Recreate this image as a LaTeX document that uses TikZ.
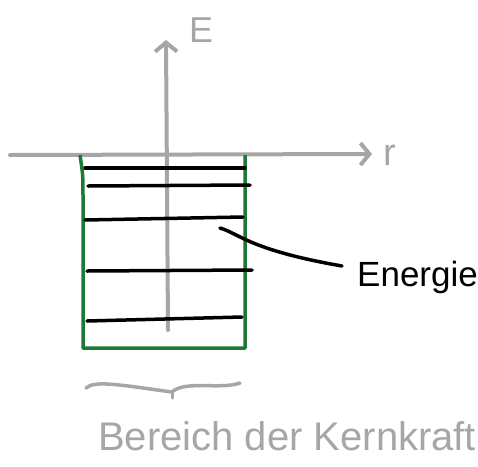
\documentclass[tikz,border=0pt]{standalone}
\usepackage{fontspec}
\setmainfont{Liberation Sans}
\usetikzlibrary{arrows.meta,decorations.pathreplacing}
\definecolor{axisgray}{RGB}{166,166,166}
\definecolor{boxgreen}{RGB}{28,122,52}
\tikzset{
  axis/.style={draw=axisgray,line width=4pt,line cap=round,-{Straight Barb[length=9pt,width=22pt,line width=4pt]}},
  level/.style={draw=black,line width=3.5pt,line cap=round},
  well/.style={draw=boxgreen,line width=3.5pt,line join=round},
  lbl/.style={inner sep=0pt,anchor=base west},
}
\begin{document}
\begin{tikzpicture}[x=1pt,y=-1pt]
\useasboundingbox (0,0) rectangle (478,466);
\clip (0,0) rectangle (478,466);
% axes
\coordinate (ybot) at (168,330);
\coordinate (ytop) at (166,40);
\coordinate (xl) at (10,155);
\coordinate (xr) at (372,154);
\draw[axis] (ybot) -- (ytop);
\draw[axis] (xl) -- (xr);
\node[lbl,text=axisgray,font=\fontsize{36}{36}\selectfont] (E) at (189,42) {E};
\node[lbl,text=axisgray,font=\fontsize{38}{38}\selectfont] (r) at (383,165) {r};
% potential well
\coordinate (w1) at (80,155);
\coordinate (w2) at (83,348);
\coordinate (w3) at (245,348);
\coordinate (w4) at (245,155);
\draw[well] (w1) .. controls (83,175) .. (83,200) -- (w2) -- (w3) -- (w4);
% energy levels
\coordinate (l1a) at (85,168); \coordinate (l1b) at (245,168);
\coordinate (l2a) at (88,186); \coordinate (l2b) at (250,185);
\coordinate (l3a) at (85,220); \coordinate (l3b) at (243,217);
\coordinate (l4a) at (87,271); \coordinate (l4b) at (252,270);
\coordinate (l5a) at (87,321); \coordinate (l5b) at (242,317);
\draw[level] (l1a) -- (l1b);
\draw[level] (l2a) -- (l2b);
\draw[level] (l3a) -- (l3b);
\draw[level] (l4a) -- (l4b);
\draw[level] (l5a) -- (l5b);
% label
\node[lbl,font=\fontsize{35}{35}\selectfont] (en) at (357,286) {Energie};
\coordinate (c0) at (220,228);
\draw[level] (c0) .. controls (240,234) and (250,250) .. (342,266);
% brace
\coordinate (b1) at (86,388);
\coordinate (b2) at (240,383);
\draw[draw=axisgray,line width=3.5pt,line cap=round] (b1) .. controls (95,380) and (120,385) .. (172,392) .. controls (185,380) and (220,390) .. (b2);
\draw[draw=axisgray,line width=3pt,line cap=round] (172,392) -- (172,398);
\node[lbl,text=axisgray,font=\fontsize{40}{40}\selectfont] (bk) at (98,450) {Bereich der Kernkraft};
\end{tikzpicture}
\end{document}
